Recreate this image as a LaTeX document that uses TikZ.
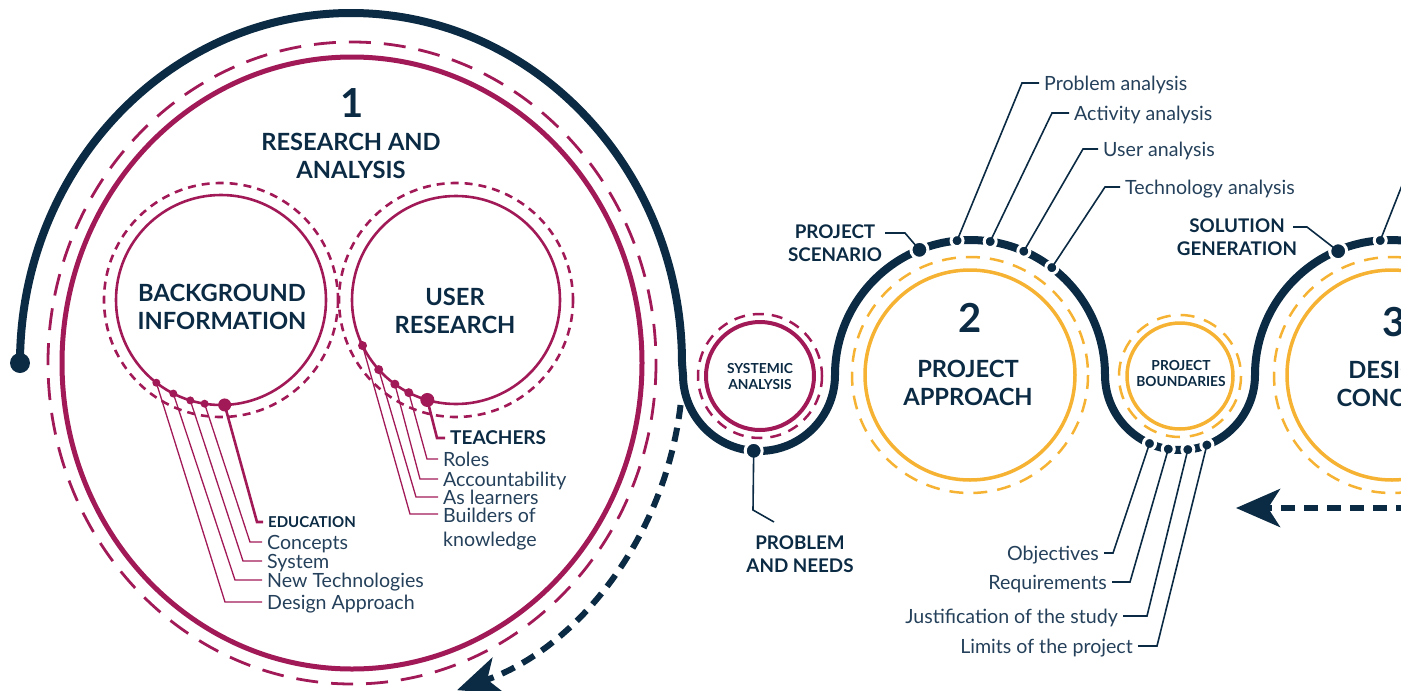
\documentclass[tikz,border=0pt]{standalone}
\usepackage{fontspec}
\setmainfont{Lato}
\usetikzlibrary{arrows.meta}
\definecolor{cNavy}{HTML}{0B2A43}
\definecolor{cTxt}{HTML}{24405A}
\definecolor{cMag}{HTML}{A11A57}
\definecolor{cYel}{HTML}{F6B333}
\begin{document}
\begin{tikzpicture}[x=1pt,y=-1pt,
  navyline/.style={draw=cNavy,line width=8pt},
  magbig/.style={draw=cMag,line width=5pt},
  magbigdash/.style={draw=cMag,line width=2.8pt,dash pattern=on 22pt off 13pt},
  magmid/.style={draw=cMag,line width=2.6pt},
  magsmalldash/.style={draw=cMag,line width=2.6pt,dash pattern=on 8pt off 6pt},
  magsys/.style={draw=cMag,line width=4pt},
  magsysdash/.style={draw=cMag,line width=2.5pt,dash pattern=on 11pt off 8pt},
  yelsolid/.style={draw=cYel,line width=3.5pt},
  yeldash/.style={draw=cYel,line width=2.5pt,dash pattern=on 14pt off 10pt},
  arrowdash/.style={draw=cNavy,line width=6pt,dash pattern=on 14pt off 9pt},
  bigtip/.style={-{Stealth[length=44pt,width=38pt,inset=12pt]}},
  ndot/.style={circle,fill=cNavy,draw=white,line width=3pt,inner sep=0pt,minimum size=#1},
  mdot/.style={circle,fill=cMag,inner sep=0pt,minimum size=#1},
  nlead/.style={draw=cNavy,line width=1.6pt},
  mlead/.style={draw=cMag,line width=1.3pt},
  mleadthick/.style={draw=cMag,line width=2.6pt},
  lbl/.style={font=\fontsize{19.6}{24}\selectfont,text=cTxt,inner xsep=5pt,inner ysep=0pt,text height=14pt,text depth=0pt},
  lblml/.style={font=\fontsize{19.6}{24}\selectfont,text=cTxt,inner xsep=5pt,inner ysep=0pt,align=left},
  lblb/.style={font=\fontsize{15}{18}\selectfont\bfseries,text=cNavy,inner xsep=5pt,inner ysep=0pt,text height=11pt,text depth=0pt},
  hdbig/.style={font=\fontsize{23.7}{28}\selectfont\bfseries,text=cNavy,align=center,inner sep=0pt},
  hdmid/.style={font=\fontsize{18.8}{23}\selectfont\bfseries,text=cNavy,align=center,inner sep=0pt},
  hdsmall/.style={font=\fontsize{13.8}{16}\selectfont\bfseries,text=cNavy,align=center,inner sep=0pt},
  numb/.style={font=\fontsize{40}{44}\selectfont\bfseries,text=cNavy,inner sep=0pt}
]
\useasboundingbox (0,0) rectangle (1401,691);
\clip (0,0) rectangle (1401,691);

% ---------- circle 1 ----------
\coordinate (C1) at (352,363);
\draw[magbigdash] (C1) ellipse[x radius=304,y radius=321];
\draw[magbig] (C1) ellipse[x radius=290,y radius=306];
\coordinate (CB) at (221,300);
\coordinate (CU) at (456,300);
\draw[magsmalldash] (CB) circle[radius=117];
\draw[magmid] (CB) circle[radius=105];
\draw[magsmalldash] (CU) circle[radius=117];
\draw[magmid] (CU) circle[radius=104];

% ---------- systemic ----------
\coordinate (CS) at (760,376);
\draw[magsysdash] (CS) circle[radius=62];
\draw[magsys] (CS) circle[radius=54];

% ---------- circle 2, boundaries, circle 3 ----------
\coordinate (C2) at (970,375);
\coordinate (CP) at (1180,376);
\coordinate (C3) at (1392,375);
\draw[yeldash] (C2) circle[radius=118];
\draw[yelsolid] (C2) circle[radius=105];
\draw[yeldash] (CP) circle[radius=61];
\draw[yelsolid] (CP) circle[radius=53];
\draw[yeldash] (C3) circle[radius=118];
\draw[yelsolid] (C3) circle[radius=105];

% ---------- navy path ----------
\node[circle,fill=cNavy,minimum size=20pt,inner sep=0pt] (start) at (20,363) {};
\draw[navyline] (start.center) arc[start angle=180,end angle=360,x radius=331,y radius=350]
  -- (683,375) arc[start angle=180,end angle=0,radius=76]
  arc[start angle=180,end angle=360,radius=135]
  arc[start angle=180,end angle=0,radius=75]
  arc[start angle=180,end angle=330,radius=135];

% ---------- dashed arrows ----------
\draw[arrowdash,bigtip] (C1) ++(7:331 and 345) arc[start angle=7,end angle=71.5,x radius=331,y radius=345];
\coordinate (ra) at (1410,508);
\coordinate (rb) at (1236,508);
\draw[arrowdash,bigtip] (ra) -- (rb);

% ---------- texts in circles ----------
\node[numb] (n1) at (352,103) {1};
\node[hdbig] (t1) at (351,156) {RESEARCH AND\\ANALYSIS};
\node[hdbig] (tb) at (222,307) {BACKGROUND\\INFORMATION};
\node[hdbig] (tu) at (455,311) {USER\\RESEARCH};
\node[hdsmall] (ts) at (760,377) {SYSTEMIC\\ANALYSIS};
\node[numb] (n2) at (970,318) {2};
\node[hdbig] (t2) at (968,383) {PROJECT\\APPROACH};
\node[hdsmall] (tp) at (1181,374) {PROJECT\\BOUNDARIES};
\node[numb] (n3) at (1394,322) {3};
\node[hdbig] (t3) at (1392,384) {DESIGN\\CONCEPT};

% ---------- background dots & leaders ----------
\node[mdot=8pt] (b1) at ([shift={(128:105)}]CB) {};
\node[mdot=8pt] (b2) at ([shift={(117:105)}]CB) {};
\node[mdot=8pt] (b3) at ([shift={(107:105)}]CB) {};
\node[mdot=8pt] (b4) at ([shift={(99:105)}]CB) {};
\node[mdot=13pt] (b5) at ([shift={(88:105)}]CB) {};
\node[lblb,anchor=west] (l-edu) at (263,522) {EDUCATION};
\node[lbl,anchor=west] (l-con) at (262,542) {Concepts};
\node[lbl,anchor=west] (l-sys) at (262,561) {System};
\node[lbl,anchor=west] (l-new) at (262,580) {New Technologies};
\node[lbl,anchor=west] (l-des) at (262,602) {Design Approach};
\draw[mleadthick] (b5.center) -- (257,522) -- (l-edu.west);
\draw[mlead] (b4.center) -- (250,542) -- (l-con.west);
\draw[mlead] (b3.center) -- (243,561) -- (l-sys.west);
\draw[mlead] (b2.center) -- (235,580) -- (l-new.west);
\draw[mlead] (b1.center) -- (225,602) -- (l-des.west);

% ---------- user research dots & leaders ----------
\node[mdot=9pt] (u1) at ([shift={(154:104)}]CU) {};
\node[mdot=9pt] (u2) at ([shift={(138:104)}]CU) {};
\node[mdot=9pt] (u3) at ([shift={(126:104)}]CU) {};
\node[mdot=9pt] (u4) at ([shift={(117:104)}]CU) {};
\node[mdot=14pt] (u5) at ([shift={(106:104)}]CU) {};
\node[lblb,anchor=west,font=\fontsize{19}{22}\selectfont\bfseries,text height=13.5pt] (l-tea) at (445,438) {TEACHERS};
\node[lbl,anchor=west] (l-rol) at (438,459) {Roles};
\node[lbl,anchor=west] (l-acc) at (438,479) {Accountability};
\node[lbl,anchor=west] (l-asl) at (438,497) {As learners};
\node[lblml,anchor=base west] (l-bui) at (438,546) {Builders of\\knowledge};
\coordinate (bui-e) at (438,514);
\draw[mleadthick] (u5.center) -- (437,438) -- (l-tea.west);
\draw[mlead] (u4.center) -- (427,459) -- (l-rol.west);
\draw[mlead] (u3.center) -- (420,479) -- (l-acc.west);
\draw[mlead] (u2.center) -- (416,497) -- (l-asl.west);
\draw[mlead] (u1.center) -- (410,514) -- (bui-e);

% ---------- navy dots ----------
\node[ndot=17pt] (pn) at ([shift={(94:76)}]759,375) {};
\node[ndot=17pt] (ps) at ([shift={(-112:135)}]C2) {};
\node[ndot=12pt] (pa) at ([shift={(-95.5:135)}]C2) {};
\node[ndot=12pt] (aa) at ([shift={(-81.4:135)}]C2) {};
\node[ndot=12pt] (ua) at ([shift={(-66.5:135)}]C2) {};
\node[ndot=12pt] (ta) at ([shift={(-52.7:135)}]C2) {};
\node[ndot=12pt] (o1) at ([shift={(114:75)}]1180,375) {};
\node[ndot=12pt] (o2) at ([shift={(99:75)}]1180,375) {};
\node[ndot=12pt] (o3) at ([shift={(84:75)}]1180,375) {};
\node[ndot=12pt] (o4) at ([shift={(69:75)}]1180,375) {};
\node[ndot=17pt] (sg) at ([shift={(-113.5:135)}]C3) {};
\node[ndot=12pt] (s2) at ([shift={(-95:135)}]C3) {};

% ---------- navy leaders & labels ----------
\node[hdmid] (l-pn) at (800,554) {PROBLEM\\AND NEEDS};
\draw[nlead] (pn.center) -- (753,510) -- (774,522);

\node[hdmid] (l-ps) at (835,243) {PROJECT\\SCENARIO};
\coordinate (ps-e) at (885,233);
\draw[nlead] (ps.center) -- (905,233) -- (ps-e);

\node[hdmid] (l-sg) at (1237,237) {SOLUTION\\GENERATION};
\coordinate (sg-e) at (1293,227);
\draw[nlead] (sg.center) -- (1307,227) -- (sg-e);
\coordinate (s2-e) at (1412,160);
\draw[nlead] (s2.center) -- (s2-e);

\node[lbl,anchor=west] (l-pa) at (1039,83) {Problem analysis};
\node[lbl,anchor=west] (l-aa) at (1069,113) {Activity analysis};
\node[lbl,anchor=west] (l-ua) at (1098,149) {User analysis};
\node[lbl,anchor=west] (l-ta) at (1120,187) {Technology analysis};
\draw[nlead] (pa.center) -- (1022,83) -- (l-pa.west);
\draw[nlead] (aa.center) -- (1052,113) -- (l-aa.west);
\draw[nlead] (ua.center) -- (1083,149) -- (l-ua.west);
\draw[nlead] (ta.center) -- (1105,187) -- (l-ta.west);

\node[lbl,anchor=east] (l-ob) at (1104,553) {Objectives};
\node[lbl,anchor=east] (l-re) at (1112,582) {Requirements};
\node[lbl,anchor=east] (l-ju) at (1123,616) {Justification of the study};
\node[lbl,anchor=east] (l-li) at (1138,646) {Limits of the project};
\draw[nlead] (o1.center) -- (1113,553) -- (l-ob.east);
\draw[nlead] (o2.center) -- (1130,582) -- (l-re.east);
\draw[nlead] (o3.center) -- (1147,616) -- (l-ju.east);
\draw[nlead] (o4.center) -- (1157,646) -- (l-li.east);
\end{tikzpicture}
\end{document}
